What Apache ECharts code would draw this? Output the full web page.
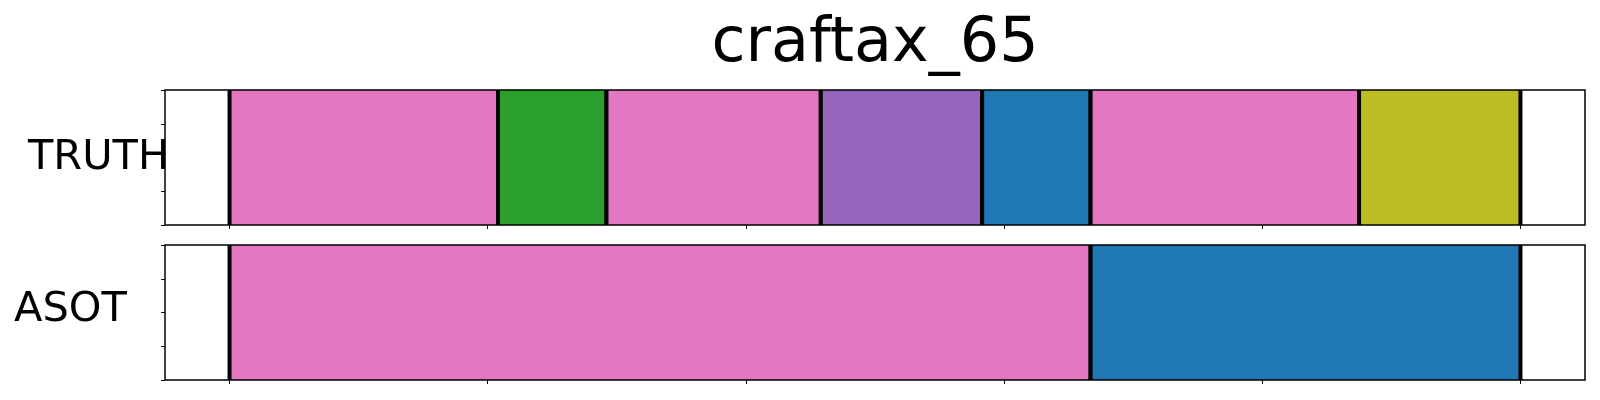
<!DOCTYPE html>
<html>
<head>
<meta charset="utf-8">
<script src="https://cdn.jsdelivr.net/npm/echarts@6/dist/echarts.min.js"></script>
<style>html,body{margin:0;padding:0;background:#fff}#c{width:1600px;height:400px}</style>
</head>
<body>
<div id="c"></div>
<script>
const title = 'craftax_65';
const rowNames = ['TRUTH', 'ASOT'];
const truthBounds = [0, 20.8, 29.2, 45.8, 58.3, 66.7, 87.5, 100];
const truthLabels = ['pink', 'green', 'pink', 'purple', 'blue', 'pink', 'olive'];
const asotBounds = [0, 66.7, 100];
const asotLabels = ['pink', 'blue'];
const xTicks = [0, 20, 40, 60, 80, 100];
const yTicks = [0, 0.25, 0.5, 0.75, 1];

const palette = {pink: '#e377c2', green: '#2ca02c', purple: '#9467bd', blue: '#1f77b4', olive: '#bcbd22'};

function segs(bounds, labels) {
  return labels.map((l, i) => [bounds[i], bounds[i + 1]]);
}

function makeRender(labels) {
  return function (params, api) {
    const s = api.value(0), e = api.value(1);
    const p0 = api.coord([s, 1]);
    const p1 = api.coord([e, 0]);
    const lab = labels[params.dataIndex];
    return {
      type: 'group',
      children: [
        {type: 'rect', shape: {x: p0[0], y: p0[1], width: p1[0] - p0[0], height: p1[1] - p0[1]},
         style: {fill: palette[lab]}},
        {type: 'line', shape: {x1: p0[0], y1: p0[1], x2: p0[0], y2: p1[1]}, style: {stroke: '#000', lineWidth: 4}},
        {type: 'line', shape: {x1: p1[0], y1: p0[1], x2: p1[0], y2: p1[1]}, style: {stroke: '#000', lineWidth: 4}}
      ]
    };
  };
}

function xAxis(i) {
  return {
    type: 'value', gridIndex: i, min: -5, max: 105,
    axisLine: {show: false, onZero: false},
    splitLine: {show: false},
    axisTick: {show: true, inside: false, length: 4, lineStyle: {color: '#000', width: 1}, customValues: xTicks},
    axisLabel: {show: false}
  };
}
function yAxis(i) {
  return {
    type: 'value', gridIndex: i, min: 0, max: 1,
    axisLine: {show: false, onZero: false},
    splitLine: {show: false},
    axisTick: {show: true, inside: false, length: 4, lineStyle: {color: '#000', width: 1}, customValues: yTicks},
    axisLabel: {show: false}
  };
}

const chart = echarts.init(document.getElementById('c'), null, {renderer: 'canvas'});
chart.setOption({
  animation: false,
  backgroundColor: '#fff',
  grid: [
    {left: 165, right: 15, top: 90, height: 135, show: true, borderColor: '#000', borderWidth: 1.5, backgroundColor: 'transparent', z: 10},
    {left: 165, right: 15, top: 245, height: 135, show: true, borderColor: '#000', borderWidth: 1.5, backgroundColor: 'transparent', z: 10}
  ],
  xAxis: [xAxis(0), xAxis(1)],
  yAxis: [yAxis(0), yAxis(1)],
  series: [
    {type: 'custom', xAxisIndex: 0, yAxisIndex: 0, renderItem: makeRender(truthLabels), data: segs(truthBounds, truthLabels), encode: {x: [0, 1]}, clip: false},
    {type: 'custom', xAxisIndex: 1, yAxisIndex: 1, renderItem: makeRender(asotLabels), data: segs(asotBounds, asotLabels), encode: {x: [0, 1]}, clip: false}
  ],
  graphic: [
    {type: 'text', x: 875, y: 14, style: {text: title, font: '62px "DejaVu Sans"', fill: '#000', textAlign: 'center', textVerticalAlign: 'top'}, z: 20},
    {type: 'text', x: 28, y: 158, style: {text: rowNames[0], font: '41.5px "DejaVu Sans"', fill: '#000', textAlign: 'left', textVerticalAlign: 'middle'}, z: 20},
    {type: 'text', x: 14, y: 310, style: {text: rowNames[1], font: '41.5px "DejaVu Sans"', fill: '#000', textAlign: 'left', textVerticalAlign: 'middle'}, z: 20}
  ]
});
</script>
</body>
</html>
